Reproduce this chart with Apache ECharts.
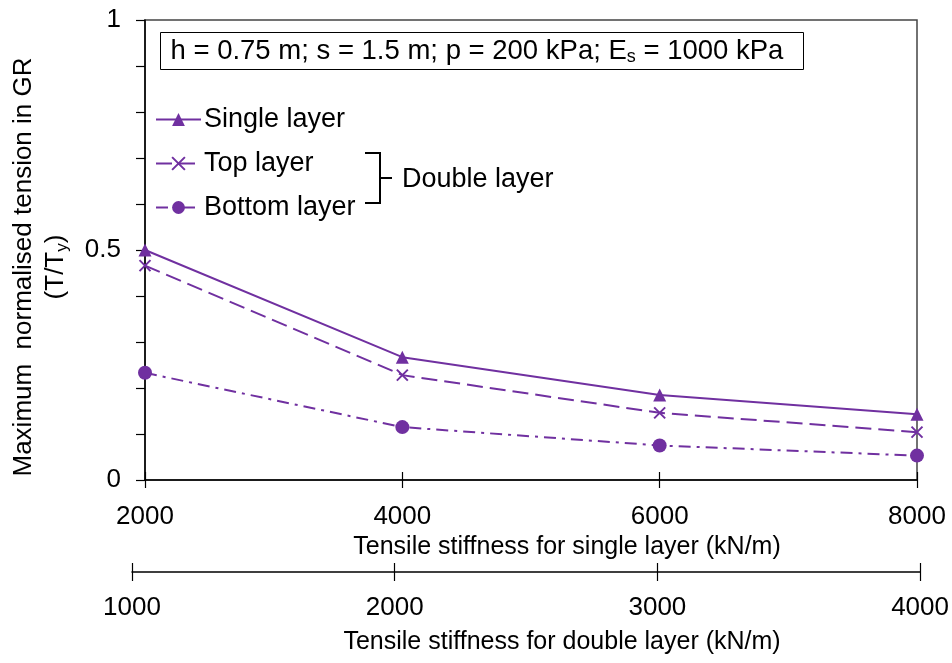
<!DOCTYPE html>
<html>
<head>
<meta charset="utf-8">
<script src="https://cdn.jsdelivr.net/npm/echarts@6/dist/echarts.min.js"></script>
<style>
  html, body { margin: 0; padding: 0; background: #fff; }
  #chart { width: 952px; height: 663px; }
</style>
</head>
<body>
<div id="chart"></div>
<script>
// stiffness of the single layer (kN/m) and matching double-layer stiffness
var singleStiffness = [2000, 4000, 6000, 8000];
var doubleStiffness = [1000, 2000, 3000, 4000];

// maximum normalised tension T/Ty
var singleLayer = [0.5, 0.267, 0.185, 0.143];
var topLayer = [0.466, 0.228, 0.146, 0.104];
var bottomLayer = [0.233, 0.115, 0.075, 0.053];

var purple = "#7030A0";
var font = "Liberation Sans, Arial, sans-serif";

function pairs(xs, ys) {
  return xs.map(function (x, i) { return [x, ys[i]]; });
}
function plain(v) {
  return String(v);
}

var chartDom = document.getElementById("chart");
var myChart = echarts.init(chartDom);
var option;

option = {
  animation: false,
  textStyle: { fontFamily: font, color: "#000" },
  grid: [
    { left: 141, right: 35, top: 20, bottom: 183, show: true, borderColor: "#444", borderWidth: 1.5 },
    { left: 132, right: 29, top: 560, bottom: 91 }
  ],
  xAxis: [
    {
      gridIndex: 0, type: "value", min: 2000, max: 8000, interval: 2000,
      name: "Tensile stiffness for single layer (kN/m)",
      nameLocation: "middle", nameGap: 52,
      nameTextStyle: { fontSize: 25, color: "#000", padding: [0, 0, 0, 72] },
      axisLine: { lineStyle: { color: "#000", width: 1.5 } },
      axisTick: { length: 8, lineStyle: { color: "#000", width: 1.2 } },
      axisLabel: { fontSize: 26, color: "#000", margin: 24, formatter: plain },
      splitLine: { show: false }
    },
    {
      gridIndex: 0, type: "value", min: 2000, max: 8000, interval: 2000, position: "bottom",
      axisLine: { show: false },
      axisTick: { inside: true, length: 8, lineStyle: { color: "#000", width: 1.2 } },
      axisLabel: { show: false },
      splitLine: { show: false }
    },
    {
      gridIndex: 1, type: "value", min: 1000, max: 4000, interval: 1000,
      name: "Tensile stiffness for double layer (kN/m)",
      nameLocation: "middle", nameGap: 58,
      nameTextStyle: { fontSize: 25, color: "#000", padding: [0, 0, 0, 72] },
      axisLine: { lineStyle: { color: "#000", width: 1.5 } },
      axisTick: { length: 9, lineStyle: { color: "#000", width: 1.2 } },
      axisLabel: { fontSize: 26, color: "#000", margin: 23, formatter: plain },
      splitLine: { show: false }
    },
    {
      gridIndex: 1, type: "value", min: 1000, max: 4000, interval: 1000, position: "bottom",
      axisLine: { show: false },
      axisTick: { inside: true, length: 9, lineStyle: { color: "#000", width: 1.2 } },
      axisLabel: { show: false },
      splitLine: { show: false }
    }
  ],
  yAxis: [
    {
      gridIndex: 0, type: "value", min: 0, max: 1, interval: 0.5,
      name: "Maximum  normalised tension in GR\n(T/T{sub|y})",
      nameLocation: "middle", nameRotate: 90, nameGap: 73,
      nameTextStyle: {
        fontSize: 26, color: "#000", lineHeight: 32, align: "center",
        padding: [0, 34, 0, 0],
        rich: { sub: { fontSize: 17, padding: [12, 0, 0, 0] } }
      },
      axisLine: { lineStyle: { color: "#000", width: 1.5 } },
      axisTick: { length: 9, lineStyle: { color: "#000", width: 1.2 } },
      minorTick: { show: true, splitNumber: 5, length: 9, lineStyle: { color: "#000", width: 1.2 } },
      axisLabel: { fontSize: 26, color: "#000", margin: 24 },
      splitLine: { show: false }
    },
    {
      gridIndex: 1, type: "value", show: false, min: 0, max: 1
    }
  ],
  legend: {
    orient: "vertical", left: 155, top: 106, padding: 0,
    itemWidth: 45, itemHeight: 16, itemGap: 17,
    textStyle: { fontSize: 27, color: "#000", fontFamily: font, padding: [0, 0, 0, -2] },
    data: ["Single layer", "Top layer", "Bottom layer"]
  },
  graphic: [
    {
      type: "group", left: 160, top: 32,
      children: [
        { type: "rect", shape: { x: 0, y: 0, width: 643, height: 37 }, style: { fill: "#fff", stroke: "#000", lineWidth: 1 } },
        {
          type: "text", x: 10, y: 19,
          style: {
            text: "h = 0.75 m; s = 1.5 m; p = 200 kPa; E{s|s} = 1000 kPa",
            font: "27.5px " + font, fill: "#000", verticalAlign: "middle",
            rich: { s: { fontSize: 18, padding: [12, 0, 0, 0] } }
          }
        }
      ]
    },
    {
      type: "polyline",
      shape: { points: [[365, 153], [380, 153], [380, 178], [392, 178], [380, 178], [380, 203], [365, 203]] },
      style: { stroke: "#000", lineWidth: 2, fill: null }
    },
    {
      type: "text", left: 402, top: 166,
      style: { text: "Double layer", font: "27px " + font, fill: "#000" }
    }
  ],
  series: [
    {
      name: "Single layer", type: "line", xAxisIndex: 0, yAxisIndex: 0,
      data: pairs(singleStiffness, singleLayer),
      symbol: "triangle", symbolSize: 13,
      lineStyle: { color: purple, width: 2 },
      itemStyle: { color: purple }
    },
    {
      name: "Top layer", type: "line", xAxisIndex: 0, yAxisIndex: 0,
      data: pairs(singleStiffness, topLayer),
      symbol: "path://M0,0L10,10M10,0L0,10", symbolSize: 11,
      lineStyle: { color: purple, width: 2, type: [16, 7] },
      itemStyle: { color: purple, borderColor: purple, borderWidth: 2 }
    },
    {
      name: "Bottom layer", type: "line", xAxisIndex: 0, yAxisIndex: 0,
      data: pairs(singleStiffness, bottomLayer),
      symbol: "circle", symbolSize: 14,
      lineStyle: { color: purple, width: 2, type: [12, 6, 3, 6] },
      itemStyle: { color: purple }
    }
  ]
};

myChart.setOption(option);
window.addEventListener("resize", function () {
  myChart.resize();
});
</script>
</body>
</html>
